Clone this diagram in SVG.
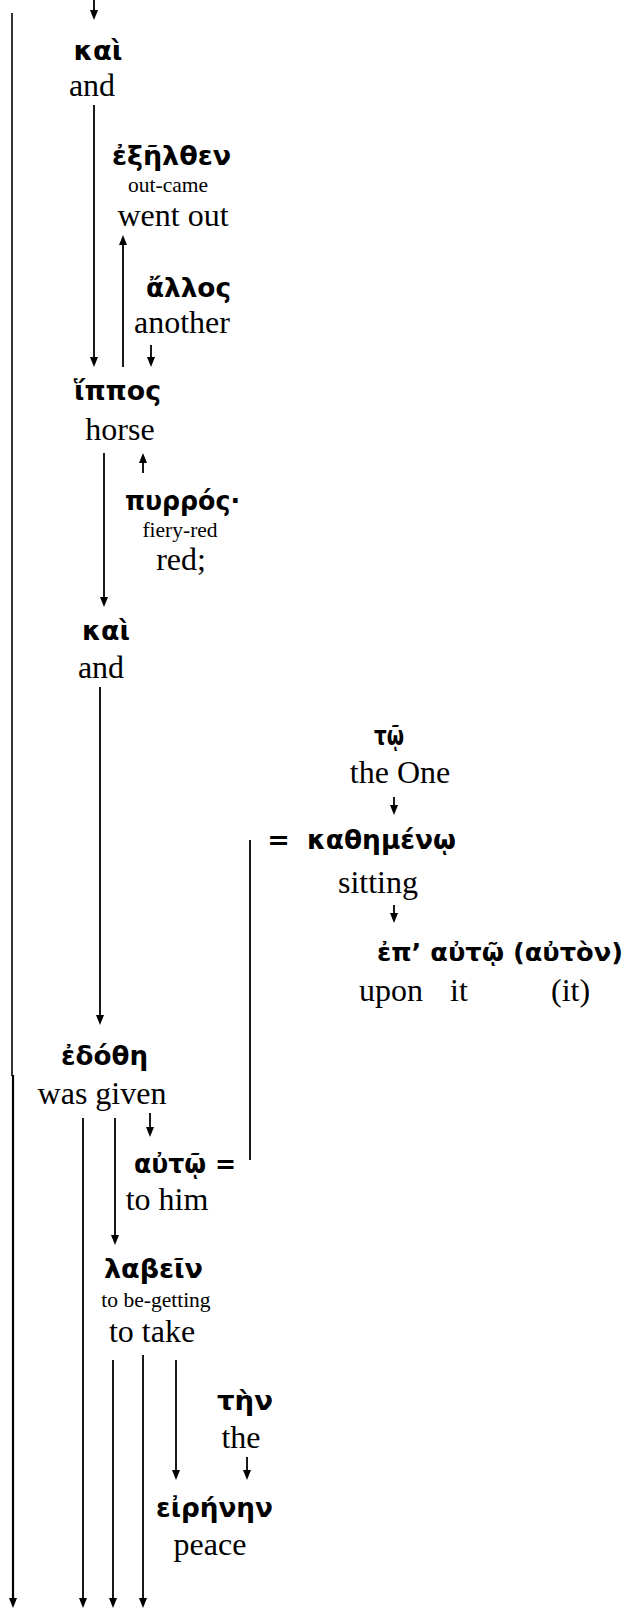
<svg xmlns="http://www.w3.org/2000/svg" width="629" height="1608" viewBox="0 0 629 1608">
<defs>
<marker id="ah" viewBox="0 0 10 8" refX="5" refY="4" markerWidth="10" markerHeight="8" markerUnits="userSpaceOnUse" orient="auto">
<path d="M0,0 L10,4 L0,8 z" fill="#000"/>
</marker>
<style>
.g{font-family:"DejaVu Sans",sans-serif;font-weight:bold;font-size:27px;fill:#000;text-anchor:middle}
.e{font-family:"Liberation Serif",serif;font-size:32px;fill:#000;text-anchor:middle}
.s{font-family:"Liberation Serif",serif;font-size:21.5px;fill:#000;text-anchor:middle}
.st{text-anchor:start}
.c line{stroke:#000;stroke-width:1.8;fill:none}
.c .a{marker-end:url(#ah)}
</style>
</defs>
<rect width="629" height="1608" fill="#fff"/>
<g id="connectors" class="c">
<line class="a" x1="94" y1="0" x2="94" y2="15"/>
<line class="a" x1="94" y1="105" x2="94" y2="362"/>
<line class="a" x1="123" y1="367" x2="123" y2="240"/>
<line class="a" x1="151" y1="345" x2="151" y2="362"/>
<line class="a" x1="104" y1="453" x2="104" y2="602"/>
<line class="a" x1="143" y1="473" x2="143" y2="458"/>
<line class="a" x1="100" y1="687" x2="100" y2="1020"/>
<line class="a" x1="394" y1="797" x2="394" y2="810"/>
<line class="a" x1="394" y1="905" x2="394" y2="918"/>
<line x1="250" y1="840" x2="250" y2="1160"/>
<line x1="12" y1="13" x2="12" y2="1076" style="stroke-width:1.6"/>
<line class="a" x1="13" y1="1075" x2="13" y2="1603" style="stroke-width:2.2"/>
<line class="a" x1="150" y1="1113" x2="150" y2="1132"/>
<line class="a" x1="83" y1="1118" x2="83" y2="1603"/>
<line class="a" x1="115" y1="1118" x2="115" y2="1240"/>
<line class="a" x1="113" y1="1360" x2="113" y2="1603"/>
<line class="a" x1="143" y1="1355" x2="143" y2="1603"/>
<line class="a" x1="176" y1="1360" x2="176" y2="1475"/>
<line class="a" x1="247" y1="1457" x2="247" y2="1475"/>
</g>
<g id="n1"><text class="g" x="98" y="60" textLength="49" lengthAdjust="spacingAndGlyphs">καὶ</text><text class="e" x="92" y="96">and</text></g>
<g id="n2"><text class="g" x="171.5" y="165" textLength="119" lengthAdjust="spacingAndGlyphs">ἐξῆλθεν</text><text class="s" x="168" y="192">out-came</text><text class="e" x="173" y="226">went out</text></g>
<g id="n3"><text class="g" x="188.5" y="297" textLength="85" lengthAdjust="spacingAndGlyphs">ἄλλος</text><text class="e" x="182" y="333">another</text></g>
<g id="n4"><text class="g" x="117.5" y="400" textLength="87" lengthAdjust="spacingAndGlyphs">ἵππος</text><text class="e" x="120" y="440">horse</text></g>
<g id="n5"><text class="g" x="182.5" y="510" textLength="115" lengthAdjust="spacingAndGlyphs">πυρρός·</text><text class="s" x="180" y="537">fiery-red</text><text class="e" x="181" y="570">red;</text></g>
<g id="n6"><text class="g" x="106" y="640" textLength="48" lengthAdjust="spacingAndGlyphs">καὶ</text><text class="e" x="101" y="678">and</text></g>
<g id="n7"><text class="g" x="389" y="745" textLength="30" lengthAdjust="spacingAndGlyphs">τῷ</text><text class="e" x="400" y="783">the One</text></g>
<g id="n8"><text class="g" x="278.5" y="849">=</text><text class="g" x="381.5" y="849" textLength="149" lengthAdjust="spacingAndGlyphs">καθημένῳ</text><text class="e" x="378" y="893">sitting</text></g>
<g id="n9"><text class="g st" x="377" y="961" style="font-size:24.5px" textLength="246" lengthAdjust="spacingAndGlyphs">ἐπ’ αὐτῷ (αὐτὸν)</text><text class="e st" y="1001"><tspan x="359">upon</tspan><tspan x="450">it</tspan><tspan x="551">(it)</tspan></text></g>
<g id="n10"><text class="g" x="104.5" y="1065" textLength="87" lengthAdjust="spacingAndGlyphs">ἐδόθη</text><text class="e" x="102" y="1104">was given</text></g>
<g id="n11"><text class="g st" x="134" y="1173" textLength="102" lengthAdjust="spacingAndGlyphs">αὐτῷ =</text><text class="e" x="167" y="1210">to him</text></g>
<g id="n12"><text class="g" x="153.5" y="1278" textLength="99" lengthAdjust="spacingAndGlyphs">λαβεῖν</text><text class="s" x="156" y="1307">to be-getting</text><text class="e" x="152" y="1342">to take</text></g>
<g id="n13"><text class="g" x="245" y="1410" textLength="56" lengthAdjust="spacingAndGlyphs">τὴν</text><text class="e" x="241" y="1448">the</text></g>
<g id="n14"><text class="g" x="214.5" y="1517" textLength="117" lengthAdjust="spacingAndGlyphs">εἰρήνην</text><text class="e" x="210" y="1555">peace</text></g>
</svg>
